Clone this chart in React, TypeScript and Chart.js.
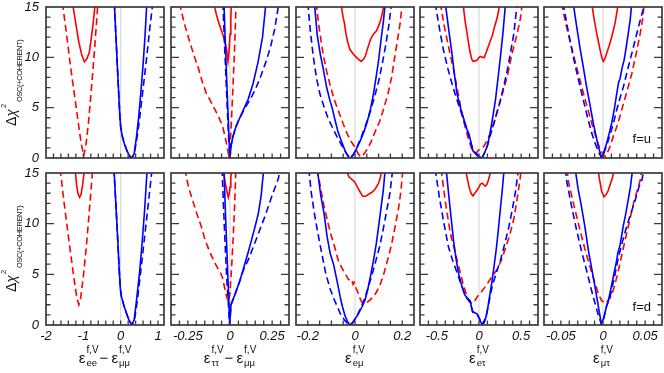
import React, { useEffect, useRef } from 'react';
import { Chart, registerables } from 'chart.js';
Chart.register(...registerables);

type Pt = [number, number];

// ---------- Panel 1: eps_ee - eps_mumu ----------
const eeU_bs: Pt[] = [[-0.17,15.4],[-0.13,12.3],[-0.09,9.2],[-0.05,6.2],[-0.02,4.0],[0.0,3.1],[0.04,2.2],[0.1,1.4],[0.17,0.7],[0.24,0.2],[0.3,0],[0.36,0.4],[0.42,2.0],[0.48,4.0],[0.54,6.5],[0.6,9.3],[0.65,12],[0.7,15.4]];
const eeU_bd: Pt[] = [[-0.17,15.4],[-0.13,12.3],[-0.09,9.2],[-0.05,6.2],[-0.02,4.0],[0.0,3.1],[0.04,2.2],[0.1,1.4],[0.17,0.7],[0.24,0.2],[0.3,0],[0.36,0.4],[0.42,1.6],[0.5,3.7],[0.6,6.9],[0.7,10.1],[0.78,12.9],[0.86,15.4]];
const eeU_rs: Pt[] = [[-1.29,15.4],[-1.2,13.3],[-1.12,11.5],[-1.04,10.2],[-0.97,9.55],[-0.9,9.9],[-0.84,10.5],[-0.79,11.8],[-0.74,13.3],[-0.68,15.4]];
const eeU_rd: Pt[] = [[-1.56,15.4],[-1.45,12.3],[-1.35,9.3],[-1.25,6.6],[-1.15,3.9],[-1.06,1.5],[-0.99,0.2],[-0.93,1.3],[-0.86,3.6],[-0.79,6.6],[-0.72,9.8],[-0.66,12.8],[-0.61,15.4]];
const eeD_bs: Pt[] = [[-0.18,15.4],[-0.13,12],[-0.08,8.5],[-0.04,5.5],[-0.01,3.6],[0.02,2.8],[0.08,2.0],[0.15,1.2],[0.22,0.5],[0.3,0],[0.36,0.5],[0.42,2.3],[0.5,5.0],[0.57,7.9],[0.64,11.3],[0.71,15.4]];
const eeD_bd: Pt[] = [[-0.18,15.4],[-0.13,12],[-0.08,8.5],[-0.04,5.5],[-0.01,3.6],[0.02,2.8],[0.08,2.0],[0.15,1.2],[0.22,0.5],[0.3,0],[0.37,0.5],[0.45,2.5],[0.55,5.7],[0.65,9],[0.75,12.3],[0.84,15.4]];
const eeD_rs: Pt[] = [[-1.22,15.4],[-1.18,13.8],[-1.14,12.9],[-1.1,12.6],[-1.06,12.9],[-1.02,13.8],[-0.97,15.4]];
const eeD_rd: Pt[] = [[-1.62,15.4],[-1.52,12.2],[-1.42,9.3],[-1.32,6.5],[-1.24,4.3],[-1.17,2.6],[-1.12,2.0],[-1.07,2.7],[-1.0,4.8],[-0.92,7.7],[-0.85,10.8],[-0.79,13.5],[-0.75,15.4]];

// ---------- Panel 2: eps_tautau - eps_mumu ----------
const ttU_bs: Pt[] = [[-0.036,15.4],[-0.028,11.5],[-0.02,8],[-0.012,4.5],[-0.006,2],[0.0,0],[0.006,1.2],[0.017,2.1],[0.035,3.1],[0.057,3.95],[0.08,4.8],[0.107,5.8],[0.137,7.4],[0.166,9.5],[0.193,12],[0.213,15.4]];
const ttU_bd: Pt[] = [[-0.042,15.4],[-0.033,11.5],[-0.024,8],[-0.015,4.5],[-0.008,2],[0.0,0],[0.006,1.2],[0.017,2.1],[0.035,3.1],[0.057,3.95],[0.09,5.0],[0.12,5.8],[0.15,6.8],[0.18,8.0],[0.21,9.4],[0.24,11],[0.265,12.8],[0.29,15.4]];
const ttU_rs: Pt[] = [[-0.097,15.4],[-0.08,14.2],[-0.06,13.1],[-0.045,12.4],[-0.03,11.6],[-0.02,10.8],[-0.012,9.6],[-0.006,10.5],[0.0,12.3],[0.005,14],[0.009,15.4]];
const ttU_rd: Pt[] = [[-0.3,15.4],[-0.27,13.3],[-0.24,11.6],[-0.21,10],[-0.187,8.9],[-0.163,7.5],[-0.14,6.4],[-0.12,5.8],[-0.089,4.8],[-0.065,4.0],[-0.045,3.2],[-0.03,2.2],[-0.018,1.2],[-0.008,0.3],[0.0,1.0],[0.008,3.5],[0.016,6.5],[0.024,9.5],[0.03,12.2],[0.036,15.4]];
const ttD_bs: Pt[] = [[-0.036,15.4],[-0.028,11.5],[-0.02,8],[-0.012,4.5],[-0.006,2],[-0.002,0],[0.006,2],[0.02,2.6],[0.04,3.5],[0.059,4.4],[0.075,5.3],[0.089,6.1],[0.11,7.3],[0.128,8.4],[0.15,9.8],[0.168,11],[0.185,12.8],[0.2,15.4]];
const ttD_bd: Pt[] = [[-0.047,15.4],[-0.038,11.5],[-0.029,8],[-0.02,4.8],[-0.01,2.2],[-0.002,0],[0.006,2],[0.02,2.6],[0.04,3.5],[0.059,4.4],[0.079,5.4],[0.11,6.5],[0.138,7.7],[0.17,9.1],[0.207,10.7],[0.25,12.8],[0.286,14.4],[0.298,15.4]];
const ttD_rs: Pt[] = [[-0.041,15.4],[-0.03,14.2],[-0.02,13.3],[-0.01,12.6],[-0.004,13],[0.0,13.6],[0.005,14.5],[0.01,15.4]];
const ttD_rd: Pt[] = [[-0.268,15.4],[-0.246,13.6],[-0.22,12.2],[-0.197,11],[-0.17,9.7],[-0.148,8.4],[-0.12,7.2],[-0.089,6.1],[-0.07,5.5],[-0.059,5.25],[-0.045,4.7],[-0.032,3.7],[-0.02,2.8],[-0.01,2.3],[0.0,3.2],[0.01,5.8],[0.02,9],[0.028,12],[0.035,15.4]];

// ---------- Panel 3: eps_emu ----------
const emU_bs: Pt[] = [[-0.172,15.4],[-0.16,12.2],[-0.147,10.3],[-0.135,8.9],[-0.12,7.0],[-0.105,5.6],[-0.097,5.0],[-0.085,3.8],[-0.072,2.6],[-0.055,1.5],[-0.04,0.6],[-0.028,0.1],[-0.018,0],[-0.005,0.4],[0.008,1.0],[0.022,1.7],[0.038,2.6],[0.052,3.6],[0.065,4.8],[0.077,6.2],[0.088,7.8],[0.1,9.7],[0.11,11.7],[0.12,13.5],[0.128,15.4]];
const emU_bd: Pt[] = [[-0.2,15.4],[-0.19,12.8],[-0.178,10.3],[-0.163,7.9],[-0.148,6.3],[-0.13,5.0],[-0.115,4.0],[-0.095,3.0],[-0.076,2.1],[-0.055,1.2],[-0.035,0.4],[-0.02,0],[-0.005,0.4],[0.009,1.1],[0.03,2.3],[0.05,3.6],[0.066,4.7],[0.083,6.1],[0.1,7.6],[0.115,9.3],[0.13,11.2],[0.143,13.1],[0.155,15.4]];
const emU_rs: Pt[] = [[-0.06,15.4],[-0.052,14.2],[-0.045,13.4],[-0.038,12.3],[-0.032,11.6],[-0.022,10.8],[-0.01,10.4],[0.002,10.1],[0.015,9.8],[0.026,9.6],[0.036,9.8],[0.045,10.2],[0.055,11.0],[0.066,11.8],[0.078,12.3],[0.09,12.6],[0.1,13.1],[0.11,13.8],[0.117,14.5],[0.123,15.4]];
const emU_rd: Pt[] = [[-0.165,15.4],[-0.15,12.6],[-0.135,10.3],[-0.12,8.6],[-0.105,7.2],[-0.088,5.8],[-0.069,4.6],[-0.05,3.4],[-0.033,2.4],[-0.015,1.6],[0.002,1.0],[0.014,0.4],[0.024,0.1],[0.035,0.3],[0.05,0.8],[0.068,1.6],[0.085,2.6],[0.104,3.6],[0.12,4.8],[0.14,6.4],[0.155,8.0],[0.17,10.3],[0.182,12.0],[0.192,13.5],[0.2,15.4]];
const emD_bs: Pt[] = [[-0.16,15.4],[-0.145,12.8],[-0.131,11],[-0.118,8.7],[-0.105,7.05],[-0.091,6.0],[-0.082,5.0],[-0.074,4.1],[-0.063,2.8],[-0.053,1.8],[-0.042,0.9],[-0.031,0.3],[-0.02,0],[-0.01,0.2],[-0.003,0.5],[0.009,0.9],[0.0185,1.3],[0.03,1.8],[0.043,2.5],[0.055,3.6],[0.068,5.1],[0.08,6.6],[0.09,8.0],[0.1,9.7],[0.111,11.7],[0.12,13.3],[0.128,15.4]];
const emD_bd: Pt[] = [[-0.196,15.4],[-0.185,13],[-0.172,11],[-0.16,9.4],[-0.142,7.2],[-0.124,5.1],[-0.106,3.6],[-0.088,2.5],[-0.073,1.7],[-0.06,1.0],[-0.045,0.5],[-0.03,0.1],[-0.02,0],[-0.005,0.4],[0.011,1.0],[0.03,2.0],[0.045,2.9],[0.061,4.1],[0.082,5.8],[0.104,7.7],[0.12,9.5],[0.132,11],[0.148,13],[0.16,15.4]];
const emD_rs: Pt[] = [[-0.04,15.4],[-0.025,14.6],[-0.01,14.3],[0.0,14.1],[0.01,13.6],[0.02,13.2],[0.033,12.7],[0.045,12.7],[0.058,12.9],[0.072,13.1],[0.085,13.4],[0.1,14],[0.108,14.6],[0.114,15.4]];
const emD_rd: Pt[] = [[-0.16,15.4],[-0.145,13.4],[-0.131,11.7],[-0.117,10.3],[-0.103,9.0],[-0.085,7.6],[-0.07,6.3],[-0.055,5.6],[-0.04,5.0],[-0.028,4.5],[-0.02,4.4],[-0.014,4.5],[-0.008,4.0],[-0.003,4.2],[0.005,3.6],[0.011,3.3],[0.02,2.7],[0.028,2.3],[0.036,2.1],[0.045,2.2],[0.055,2.3],[0.065,2.5],[0.077,2.8],[0.09,3.2],[0.105,3.9],[0.118,4.7],[0.132,5.9],[0.145,7.0],[0.157,8.2],[0.17,9.7],[0.185,11.6],[0.195,13.3],[0.203,15.4]];

// ---------- Panel 4: eps_etau ----------
const etU_bs: Pt[] = [[-0.4,15.4],[-0.36,12.8],[-0.321,10.4],[-0.29,8.2],[-0.261,6.4],[-0.23,5.3],[-0.202,4.45],[-0.17,3.6],[-0.142,2.8],[-0.12,2.4],[-0.103,1.85],[-0.085,1.1],[-0.071,0.7],[-0.045,0.5],[-0.023,0.4],[0.0,0.15],[0.037,0],[0.07,0.6],[0.097,1.15],[0.12,2.0],[0.144,3.1],[0.17,4.4],[0.196,5.8],[0.225,7.9],[0.255,10.1],[0.285,12.5],[0.315,15.4]];
const etU_bd: Pt[] = [[-0.52,15.4],[-0.47,12.9],[-0.421,10.7],[-0.37,8.9],[-0.321,7.4],[-0.27,6.0],[-0.222,4.8],[-0.18,3.7],[-0.142,2.8],[-0.1,1.6],[-0.063,0.7],[-0.03,0.3],[0.0,0.1],[0.037,0],[0.07,0.6],[0.097,1.15],[0.136,2.3],[0.176,3.4],[0.215,4.6],[0.255,5.8],[0.295,7.2],[0.335,8.7],[0.375,10.5],[0.414,12.4],[0.454,15.4]];
const etU_rs: Pt[] = [[-0.19,15.4],[-0.165,13.6],[-0.142,12.4],[-0.12,11.2],[-0.103,10.4],[-0.085,9.8],[-0.07,9.6],[-0.045,9.65],[-0.023,9.7],[0.0,10.0],[0.017,10.1],[0.04,10.0],[0.064,10.0],[0.09,10.6],[0.116,11.2],[0.136,11.7],[0.156,12.1],[0.18,12.9],[0.208,13.7],[0.228,14.4],[0.247,15.4]];
const etU_rd: Pt[] = [[-0.46,15.4],[-0.41,13.0],[-0.355,10.8],[-0.302,8.8],[-0.25,6.5],[-0.202,4.45],[-0.16,2.9],[-0.123,1.85],[-0.09,1.0],[-0.063,0.5],[-0.03,0.55],[-0.003,0.8],[0.03,0.95],[0.056,1.15],[0.095,1.7],[0.136,2.5],[0.185,3.7],[0.235,5.1],[0.285,6.6],[0.335,8.1],[0.39,10.3],[0.454,12.4],[0.49,13.8],[0.514,15.4]];
const etD_bs: Pt[] = [[-0.39,15.4],[-0.36,12.9],[-0.33,10.5],[-0.3,8.2],[-0.27,6.4],[-0.24,5.0],[-0.202,3.8],[-0.17,3.0],[-0.135,2.6],[-0.105,2.4],[-0.09,1.8],[-0.075,1.3],[-0.05,1.2],[-0.023,1.1],[0.0,0.7],[0.02,0.3],[0.037,0.05],[0.06,0.2],[0.08,0.7],[0.097,1.3],[0.125,2.8],[0.156,4.4],[0.182,6.0],[0.208,7.7],[0.232,9.6],[0.255,11.6],[0.275,13.2],[0.298,15.4]];
const etD_bd: Pt[] = [[-0.52,15.4],[-0.47,12.6],[-0.42,10.2],[-0.362,7.7],[-0.31,6.3],[-0.262,5.2],[-0.22,4.2],[-0.18,3.3],[-0.14,2.6],[-0.105,2.2],[-0.075,1.3],[-0.05,1.2],[-0.023,1.1],[0.0,0.7],[0.037,0.05],[0.08,0.7],[0.12,2.3],[0.156,3.8],[0.2,5.0],[0.255,6.4],[0.305,8.0],[0.355,9.7],[0.395,11.4],[0.434,13.2],[0.468,15.4]];
const etD_rs: Pt[] = [[-0.16,15.4],[-0.14,14.5],[-0.12,13.7],[-0.095,13.0],[-0.071,12.75],[-0.05,13.0],[-0.023,13.3],[0.0,13.6],[0.017,13.9],[0.04,14.0],[0.06,13.8],[0.076,13.7],[0.095,13.9],[0.116,14.4],[0.13,14.9],[0.14,15.4]];
const etD_rd: Pt[] = [[-0.45,15.4],[-0.4,12.2],[-0.341,9.1],[-0.29,7.4],[-0.242,5.8],[-0.19,4.1],[-0.142,2.8],[-0.11,2.3],[-0.082,2.1],[-0.05,2.4],[-0.02,2.8],[0.0,3.0],[0.04,3.4],[0.076,3.8],[0.116,4.3],[0.156,4.8],[0.19,5.2],[0.216,5.5],[0.265,6.4],[0.315,7.6],[0.365,8.9],[0.414,10.5],[0.45,12.3],[0.486,14.3],[0.5,15.4]];

// ---------- Panel 5: eps_mutau ----------
const mtU_bs: Pt[] = [[-0.0354,15.4],[-0.0315,13.2],[-0.0274,11],[-0.0235,9.1],[-0.0195,7.1],[-0.0155,5.3],[-0.0116,3.5],[-0.0085,2.3],[-0.0056,1.15],[-0.003,0.4],[-0.0012,0],[0.0015,0.7],[0.0044,1.5],[0.0075,2.5],[0.0104,3.5],[0.0135,4.9],[0.0163,6.4],[0.0185,7.5],[0.0203,7.9],[0.0225,8.9],[0.025,9.7],[0.0275,11],[0.03,12.4],[0.0322,13.7],[0.0342,15.4]];
const mtU_bd: Pt[] = [[-0.0474,15.4],[-0.0415,12.7],[-0.0354,10.1],[-0.0295,7.9],[-0.0235,5.8],[-0.0185,4.1],[-0.0135,2.5],[-0.0095,1.5],[-0.0056,0.66],[-0.0025,0.15],[-0.0012,0],[0.0015,0.6],[0.005,1.4],[0.0084,2.3],[0.0125,3.5],[0.0163,4.8],[0.0203,6.0],[0.0243,7.1],[0.029,8.7],[0.0342,10.4],[0.039,12.0],[0.0442,13.7],[0.0475,14.7],[0.0501,15.4]];
const mtU_rs: Pt[] = [[-0.0135,15.4],[-0.0105,13.8],[-0.0075,12.4],[-0.0036,10.8],[-0.0015,10.0],[0.0004,9.6],[0.0025,9.9],[0.0044,10.4],[0.0075,11.2],[0.0104,12.05],[0.0143,13.4],[0.0183,15.4]];
const mtU_rd: Pt[] = [[-0.0493,15.4],[-0.0445,13.5],[-0.0394,11.7],[-0.0334,9.7],[-0.0274,7.75],[-0.0215,5.9],[-0.0155,4.1],[-0.0115,2.9],[-0.0075,1.85],[-0.0035,0.9],[0.0004,0.33],[0.0028,0.16],[0.0055,0.6],[0.0084,1.15],[0.012,2.1],[0.0163,3.1],[0.0203,4.2],[0.0243,5.4],[0.029,6.8],[0.0342,8.4],[0.0392,10.3],[0.0442,12.4],[0.0468,13.7],[0.049,15.4]];
const mtD_bs: Pt[] = [[-0.033,15.4],[-0.0295,13.4],[-0.026,11.9],[-0.0215,9.7],[-0.017,7.2],[-0.0119,4.9],[-0.0085,3.3],[-0.0048,1.5],[-0.002,0.1],[0.001,0.7],[0.004,1.8],[0.0063,2.4],[0.0099,3.8],[0.0135,5.3],[0.0163,6.4],[0.0175,7.1],[0.0203,7.9],[0.0239,9.7],[0.027,11],[0.0298,12.3],[0.0325,13.6],[0.0352,15.4]];
const mtD_bd: Pt[] = [[-0.0445,15.4],[-0.0433,14.3],[-0.0375,11.8],[-0.0314,9.4],[-0.0255,7.3],[-0.0195,5.4],[-0.0145,3.7],[-0.0095,2.14],[-0.006,1.1],[-0.0036,0.5],[-0.002,0.1],[0.001,0.7],[0.004,1.8],[0.0084,2.8],[0.0135,4.7],[0.0183,6.7],[0.023,8.2],[0.028,9.7],[0.033,11.0],[0.0382,12.3],[0.0425,13.6],[0.0462,14.3],[0.0485,15.4]];
const mtD_rs: Pt[] = [[-0.006,15.4],[-0.004,14.3],[-0.0016,13.2],[0.0012,12.65],[0.004,12.9],[0.0063,13.3],[0.009,14.0],[0.0104,14.3],[0.0125,15.0],[0.0135,15.4]];
const mtD_rd: Pt[] = [[-0.0425,15.4],[-0.0414,14.3],[-0.0345,11.8],[-0.0274,9.4],[-0.0215,7.5],[-0.0155,5.76],[-0.0105,4.4],[-0.0056,3.1],[-0.0015,2.4],[0.0024,2.14],[0.006,2.4],[0.0104,2.96],[0.0145,4.1],[0.0183,5.4],[0.0223,6.9],[0.0263,8.4],[0.031,10.1],[0.0362,12],[0.041,13.4],[0.0442,14.3],[0.046,15.4]];

// ---------- axes ----------
const xMin = [-2, -0.35, -0.25, -0.7, -0.07];
const xMax = [1.16, 0.35, 0.25, 0.7, 0.07];
const xMinorStep = [0.2, 0.05, 0.05, 0.1, 0.01];
const xTickValues = [[-2, -1, 0, 1], [-0.25, 0, 0.25], [-0.2, 0, 0.2], [-0.5, 0, 0.5], [-0.05, 0, 0.05]];
const xTickLabels = [['-2', '-1', '0', '1'], ['-0.25', '0', '0.25'], ['-0.2', '0', '0.2'], ['-0.5', '0', '0.5'], ['-0.05', '0', '0.05']];
const yTickValues = [0, 5, 10, 15];
const yTickLabels = ['0', '5', '10', '15'];
const xTitleSubs = [['ee', 'μμ'], ['ττ', 'μμ'], ['eμ'], ['eτ'], ['μτ']];
const rowLabels = ['f=u', 'f=d'];

// order in each group: blue solid, blue dashed, red solid, red dashed
const curvesU = [
  [eeU_bs, eeU_bd, eeU_rs, eeU_rd],
  [ttU_bs, ttU_bd, ttU_rs, ttU_rd],
  [emU_bs, emU_bd, emU_rs, emU_rd],
  [etU_bs, etU_bd, etU_rs, etU_rd],
  [mtU_bs, mtU_bd, mtU_rs, mtU_rd],
];
const curvesD = [
  [eeD_bs, eeD_bd, eeD_rs, eeD_rd],
  [ttD_bs, ttD_bd, ttD_rs, ttD_rd],
  [emD_bs, emD_bd, emD_rs, emD_rd],
  [etD_bs, etD_bd, etD_rs, etD_rd],
  [mtD_bs, mtD_bd, mtD_rs, mtD_rd],
];

const FONT = '"Liberation Sans", Arial, Helvetica, sans-serif';
const PANEL_LEFT = [46, 171, 296, 420, 544];
const PANEL_W = 118;
const ROW_TOP = [7, 173];
const ROW_H = [151, 152];
const LINE_STYLES = [
  { color: '#0000ff', dash: [] as number[] },
  { color: '#0000ff', dash: [7, 4] },
  { color: '#ff0000', dash: [] as number[] },
  { color: '#ff0000', dash: [7, 4] },
];
const FRAME_COLOR = '#3a3a3a';

const framePlugin = {
  id: 'frame',
  beforeDatasetsDraw(chart: any) {
    const { ctx, chartArea, scales } = chart;
    const px = scales.x.getPixelForValue(0);
    ctx.save();
    ctx.strokeStyle = '#d2d2d2';
    ctx.lineWidth = 1;
    ctx.beginPath();
    ctx.moveTo(px, chartArea.top);
    ctx.lineTo(px, chartArea.bottom);
    ctx.stroke();
    ctx.restore();
  },
  afterDatasetsDraw(chart: any, _args: any, opts: any) {
    const { ctx, chartArea, scales } = chart;
    const { left, right, top, bottom } = chartArea;
    const x = scales.x;
    const y = scales.y;
    ctx.save();
    ctx.strokeStyle = FRAME_COLOR;
    ctx.lineWidth = 1.3;
    ctx.beginPath();
    for (let v = 1; v < 15; v++) {
      const py = y.getPixelForValue(v);
      const len = v % 5 === 0 ? 8 : 4.5;
      ctx.moveTo(left, py);
      ctx.lineTo(left + len, py);
      ctx.moveTo(right, py);
      ctx.lineTo(right - len, py);
    }
    const step = opts.step;
    const k0 = Math.ceil(x.min / step - 1e-6);
    const k1 = Math.floor(x.max / step + 1e-6);
    for (let k = k0; k <= k1; k++) {
      const px = x.getPixelForValue(k * step);
      if (px <= left + 1 || px >= right - 1) continue;
      ctx.moveTo(px, bottom);
      ctx.lineTo(px, bottom - 4.5);
    }
    ctx.stroke();
    ctx.lineWidth = 1.7;
    ctx.strokeRect(left, top, right - left, bottom - top);
    ctx.restore();
  },
};

function Panel({ col, row }: { col: number; row: number }) {
  const ref = useRef<HTMLCanvasElement>(null);
  const hasY = col === 0;
  const hasX = row === 1;
  const padL = hasY ? 46 : 10;
  const padR = 10;
  const padT = 16;
  const padB = hasX ? 24 : 16;
  const W = PANEL_W;
  const H = ROW_H[row];
  const cw = W + padL + padR;
  const ch = H + padT + padB;

  useEffect(() => {
    const groups = row === 0 ? curvesU[col] : curvesD[col];
    const datasets = groups.map((pts, i) => ({
      data: pts.map(([vx, vy]) => ({ x: vx, y: vy })),
      showLine: true,
      borderColor: LINE_STYLES[i].color,
      borderWidth: 1.6,
      borderDash: LINE_STYLES[i].dash,
      pointRadius: 0,
      fill: false,
      clip: 0,
    }));
    const tickFont = { family: FONT, size: 13, style: 'italic' as const };
    const chart = new Chart(ref.current as HTMLCanvasElement, {
      type: 'scatter',
      data: { datasets },
      options: {
        animation: false,
        responsive: false,
        maintainAspectRatio: false,
        events: [],
        layout: { padding: { left: hasY ? 0 : padL, right: padR, top: padT, bottom: hasX ? 0 : padB } },
        plugins: {
          legend: { display: false },
          tooltip: { enabled: false },
          frame: { step: xMinorStep[col] },
        } as any,
        elements: { point: { radius: 0 }, line: { tension: 0 } },
        scales: {
          x: {
            type: 'linear',
            min: xMin[col],
            max: xMax[col],
            display: hasX,
            grid: { display: false, drawTicks: false },
            border: { display: false },
            afterBuildTicks: (s: any) => {
              s.ticks = xTickValues[col].map((v) => ({ value: v }));
            },
            afterFit: (s: any) => {
              if (hasX) s.height = 24;
            },
            ticks: {
              padding: 4,
              color: '#111',
              font: tickFont,
              maxRotation: 0,
              autoSkip: false,
              callback: (_v: any, i: number) => xTickLabels[col][i],
            },
          },
          y: {
            type: 'linear',
            min: 0,
            max: 15,
            display: hasY,
            grid: { display: false, drawTicks: false },
            border: { display: false },
            afterBuildTicks: (s: any) => {
              s.ticks = yTickValues.map((v) => ({ value: v }));
            },
            afterFit: (s: any) => {
              if (hasY) s.width = 46;
            },
            ticks: {
              padding: 7,
              color: '#111',
              font: tickFont,
              autoSkip: false,
              callback: (_v: any, i: number) => yTickLabels[i],
            },
          },
        },
      },
      plugins: [framePlugin],
    } as any);
    return () => chart.destroy();
  }, [col, row]);

  return (
    <canvas
      ref={ref}
      width={cw}
      height={ch}
      style={{ position: 'absolute', left: PANEL_LEFT[col] - padL, top: ROW_TOP[row] - padT, width: cw, height: ch }}
    />
  );
}

function Eps({ sub }: { sub: string }) {
  return (
    <span style={{ display: 'inline-flex', alignItems: 'flex-start' }}>
      <span style={{ fontSize: 15, lineHeight: '15px', marginTop: 6 }}>ε</span>
      <span style={{ display: 'inline-flex', flexDirection: 'column', marginLeft: 1 }}>
        <span style={{ fontSize: 10, lineHeight: '11px' }}>f,V</span>
        <span style={{ fontSize: 9.5, lineHeight: '11px', marginTop: 2 }}>{sub}</span>
      </span>
    </span>
  );
}

function XTitle({ col }: { col: number }) {
  const subs = xTitleSubs[col];
  const cx = PANEL_LEFT[col] + PANEL_W / 2;
  return (
    <div
      style={{
        position: 'absolute', left: cx, top: 344, transform: 'translateX(-50%)',
        display: 'flex', alignItems: 'flex-start', whiteSpace: 'nowrap', fontFamily: FONT, color: '#111',
      }}
    >
      <Eps sub={subs[0]} />
      {subs.length > 1 && (
        <>
          <span style={{ fontSize: 15, lineHeight: '15px', margin: '6px 3px 0 1px' }}>−</span>
          <Eps sub={subs[1]} />
        </>
      )}
    </div>
  );
}

function YTitle({ y0 }: { y0: number }) {
  return (
    <div
      style={{
        position: 'absolute', left: 0, top: y0, width: 0, height: 0,
        transform: 'rotate(-90deg)', transformOrigin: '0 0', fontFamily: FONT, color: '#111', whiteSpace: 'nowrap',
      }}
    >
      <span style={{ position: 'absolute', left: 0, top: 4, fontSize: 14, lineHeight: '14px' }}>
        Δ<i>χ</i>
      </span>
      <span style={{ position: 'absolute', left: 18, top: 0, fontSize: 7.5, lineHeight: '8px' }}>2</span>
      <span style={{ position: 'absolute', left: 24, top: 16, fontSize: 7.4, lineHeight: '8px', letterSpacing: '-0.3px' }}>
        OSC(+COHERENT)
      </span>
    </div>
  );
}

export default function App() {
  const panels: JSX.Element[] = [];
  for (let r = 0; r < 2; r++) {
    for (let c = 0; c < 5; c++) panels.push(<Panel key={`${r}-${c}`} col={c} row={r} />);
  }
  return (
    <div style={{ position: 'absolute', left: 0, top: 0, width: 664, height: 373, background: '#fff', overflow: 'hidden' }}>
      {panels}
      <YTitle y0={126} />
      <YTitle y0={292} />
      {[0, 1, 2, 3, 4].map((c) => <XTitle key={c} col={c} />)}
      {rowLabels.map((t, r) => (
        <div
          key={t}
          style={{
            position: 'absolute', right: 13, top: r === 0 ? 132 : 300, fontFamily: FONT,
            fontSize: 13, lineHeight: '13px', color: '#111',
          }}
        >
          {t}
        </div>
      ))}
    </div>
  );
}
